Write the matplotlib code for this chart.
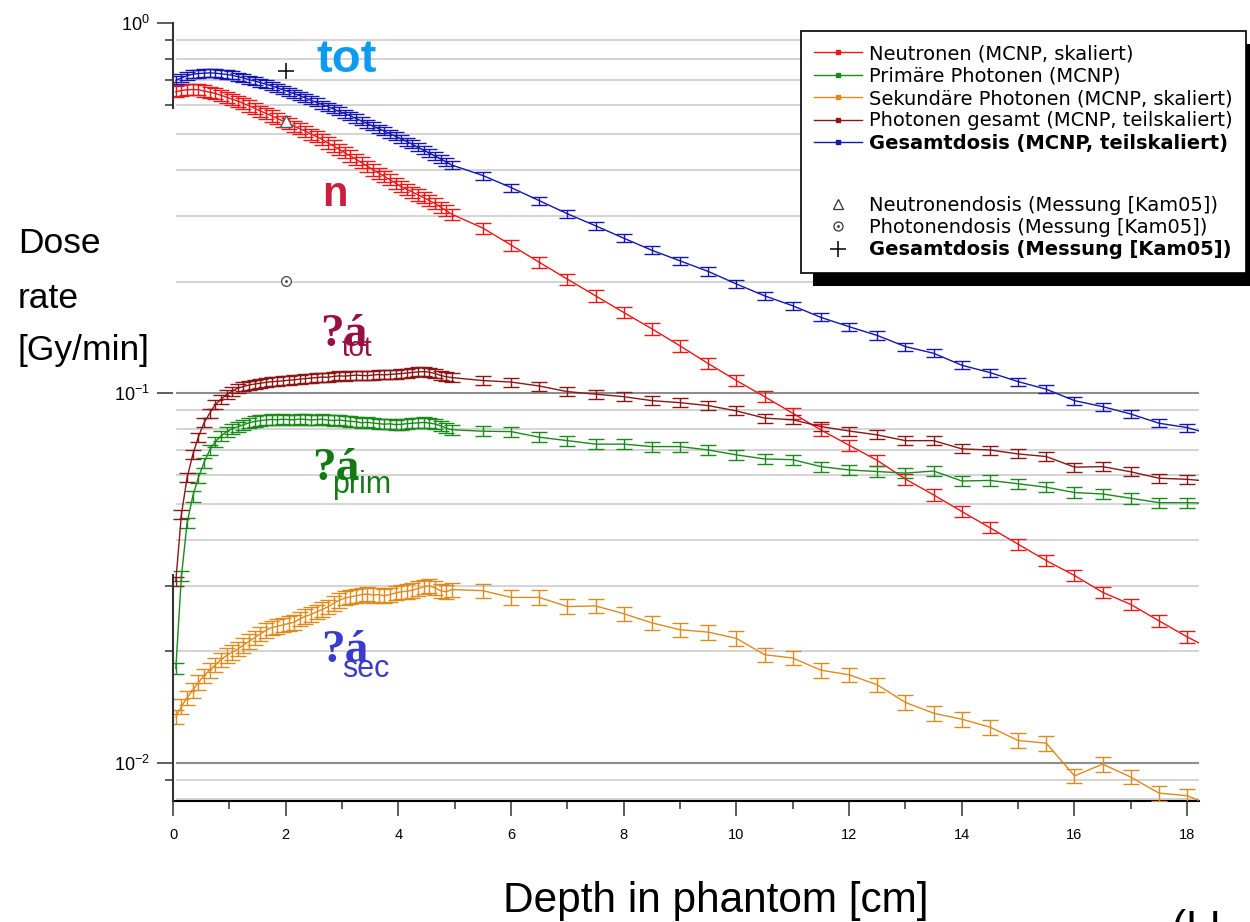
import matplotlib
matplotlib.use("Agg")
import matplotlib.pyplot as plt
from matplotlib import font_manager
from matplotlib.lines import Line2D
from matplotlib.patches import Rectangle
from matplotlib.ticker import FixedLocator, NullFormatter, LogFormatterSciNotation
from matplotlib.legend_handler import HandlerTuple

# depth in phantom [cm]: fine bins up to 5 cm, then 0.5 cm steps (last one lies past the axis end)
depth = [0.05, 0.15, 0.25, 0.35, 0.45, 0.55, 0.65, 0.75, 0.85, 0.95,
         1.05, 1.15, 1.25, 1.35, 1.45, 1.55, 1.65, 1.75, 1.85, 1.95,
         2.05, 2.15, 2.25, 2.35, 2.45, 2.55, 2.65, 2.75, 2.85, 2.95,
         3.05, 3.15, 3.25, 3.35, 3.45, 3.55, 3.65, 3.75, 3.85, 3.95,
         4.05, 4.15, 4.25, 4.35, 4.45, 4.55, 4.65, 4.75, 4.85, 4.95,
         5.5, 6.0, 6.5, 7.0, 7.5, 8.0, 8.5, 9.0, 9.5, 10.0,
         10.5, 11.0, 11.5, 12.0, 12.5, 13.0, 13.5, 14.0, 14.5, 15.0,
         15.5, 16.0, 16.5, 17.0, 17.5, 18.0, 18.5]

neutron = [0.652, 0.657, 0.660, 0.661, 0.660, 0.655, 0.650, 0.645, 0.638, 0.630,
           0.622, 0.615, 0.606, 0.597, 0.588, 0.578, 0.570, 0.561, 0.552, 0.543,
           0.535, 0.526, 0.518, 0.510, 0.501, 0.493, 0.484, 0.474, 0.465, 0.455,
           0.446, 0.437, 0.428, 0.419, 0.410, 0.401, 0.393, 0.385, 0.377, 0.369,
           0.361, 0.355, 0.349, 0.343, 0.337, 0.331, 0.325, 0.318, 0.311, 0.304,
           0.279, 0.251, 0.2255, 0.203, 0.183, 0.165, 0.149, 0.134, 0.120, 0.108,
           0.0977, 0.0881, 0.0794, 0.0722, 0.0657, 0.0585, 0.0530, 0.0478, 0.0432, 0.0390,
           0.0352, 0.0321, 0.0289, 0.0268, 0.0242, 0.0219, 0.0200]

prim_photon = [0.0180, 0.0320, 0.0445, 0.0525, 0.0590, 0.0648, 0.0700, 0.0738, 0.0765, 0.0785,
               0.0800, 0.0810, 0.0820, 0.0830, 0.0837, 0.0842, 0.0845, 0.0848, 0.0846, 0.0849,
               0.0847, 0.0846, 0.0850, 0.0848, 0.0845, 0.0847, 0.0849, 0.0844, 0.0842, 0.0845,
               0.0841, 0.0838, 0.0836, 0.0830, 0.0833, 0.0829, 0.0826, 0.0823, 0.0825, 0.0821,
               0.0822, 0.0826, 0.0828, 0.0830, 0.0832, 0.0829, 0.0824, 0.0815, 0.0803, 0.0795,
               0.0788, 0.0786, 0.0759, 0.0743, 0.0727, 0.0727, 0.0716, 0.0716, 0.0701, 0.0680,
               0.0663, 0.0660, 0.0632, 0.0619, 0.0613, 0.0607, 0.0615, 0.0578, 0.0580, 0.0568,
               0.0556, 0.0538, 0.0533, 0.0519, 0.0505, 0.0505, 0.0503]

sec_photon = [0.0133, 0.0142, 0.0150, 0.0157, 0.0165, 0.0172, 0.0178, 0.0184, 0.0190, 0.0195,
              0.0199, 0.0203, 0.0208, 0.0213, 0.0218, 0.0223, 0.0228, 0.0232, 0.0234, 0.0236,
              0.0238, 0.0240, 0.0245, 0.0249, 0.0252, 0.0256, 0.0260, 0.0264, 0.0270, 0.0275,
              0.0279, 0.0281, 0.0283, 0.0285, 0.0286, 0.0284, 0.0285, 0.0283, 0.0285, 0.0288,
              0.0290, 0.0291, 0.0293, 0.0296, 0.0299, 0.0301, 0.0297, 0.0292, 0.0290, 0.0294,
              0.0292, 0.0280, 0.0280, 0.02645, 0.02656, 0.0253, 0.0239, 0.0229, 0.02256, 0.0217,
              0.0196, 0.0192, 0.0178, 0.0173, 0.01625, 0.01456, 0.01362, 0.01312, 0.01249, 0.01149,
              0.0113, 0.00922, 0.00992, 0.00915, 0.00828, 0.00815, 0.0076]

photon_total = [0.0310, 0.0470, 0.0590, 0.0680, 0.0760, 0.0830, 0.0880, 0.0930, 0.0960, 0.0990,
                0.1010, 0.1030, 0.1040, 0.1050, 0.1057, 0.1062, 0.1068, 0.1072, 0.1075, 0.1078,
                0.1082, 0.1085, 0.1090, 0.1093, 0.1097, 0.1100, 0.1104, 0.1102, 0.1108, 0.1112,
                0.1110, 0.1114, 0.1117, 0.1115, 0.1113, 0.1118, 0.1121, 0.1119, 0.1122, 0.1125,
                0.1128, 0.1132, 0.1136, 0.1140, 0.1142, 0.1138, 0.1128, 0.1115, 0.1106, 0.1100,
                0.1080, 0.1070, 0.1044, 0.1008, 0.0992, 0.0977, 0.0953, 0.0941, 0.0924, 0.0894,
                0.0855, 0.0846, 0.0811, 0.0789, 0.0770, 0.0743, 0.0743, 0.0706, 0.0701, 0.0684,
                0.0673, 0.0630, 0.0632, 0.0612, 0.0588, 0.0584, 0.0575]

total = [0.700, 0.710, 0.720, 0.727, 0.730, 0.732, 0.733, 0.732, 0.729, 0.726,
         0.722, 0.716, 0.710, 0.703, 0.697, 0.690, 0.683, 0.676, 0.668, 0.660,
         0.652, 0.644, 0.636, 0.627, 0.618, 0.610, 0.602, 0.594, 0.585, 0.577,
         0.569, 0.561, 0.552, 0.543, 0.535, 0.526, 0.518, 0.510, 0.502, 0.494,
         0.486, 0.478, 0.470, 0.461, 0.453, 0.445, 0.437, 0.429, 0.421, 0.413,
         0.387, 0.359, 0.331, 0.305, 0.283, 0.262, 0.243, 0.2275, 0.213, 0.197,
         0.183, 0.172, 0.160, 0.151, 0.143, 0.1334, 0.128, 0.1188, 0.1135, 0.1073,
         0.1023, 0.0953, 0.0918, 0.0877, 0.0828, 0.0806, 0.0766]

# relative statistical uncertainty of each MCNP series
rel_err = {"neutron": 0.035, "prim": 0.032, "sec": 0.045, "phot": 0.028, "total": 0.025}

# measurements [Kam05]
meas_depth = [2.0]
meas_neutron = [0.543]
meas_photon = [0.201]
meas_total = [0.741]

labels = ["Neutronen (MCNP, skaliert)",
          "Primäre Photonen (MCNP)",
          "Sekundäre Photonen (MCNP, skaliert)",
          "Photonen gesamt (MCNP, teilskaliert)",
          "Gesamtdosis (MCNP, teilskaliert)",
          "Neutronendosis (Messung [Kam05])",
          "Photonendosis (Messung [Kam05])",
          "Gesamtdosis (Messung [Kam05])"]

C_N = "#ee1515"
C_P = "#1a8a1a"
C_S = "#e08a1c"
C_G = "#8b1616"
C_T = "#1515b0"

names = {f.name for f in font_manager.fontManager.ttflist}
if "Liberation Sans Narrow" in names:
    NARROW = "Liberation Sans Narrow"
    sz = {"ylab": 31, "xlab": 36, "tick": 12, "tot": 41, "n": 36}
else:
    NARROW = "Liberation Sans"
    sz = {"ylab": 25.5, "xlab": 30.5, "tick": 10.5, "tot": 34, "n": 30}

plt.rcParams["mathtext.default"] = "regular"
plt.rcParams["axes.unicode_minus"] = False

W, H = 1250, 922
fig = plt.figure(figsize=(W / 100, H / 100), dpi=100)
ax = fig.add_axes([173 / W, 1 - 800.7 / H, 1026 / W, 777.7 / H])
ax.set_yscale("log")
ax.set_xlim(0, 18.21)
ax.set_ylim(0.0079, 1.0)

# horizontal grid (no line at the top decade)
for dec in (0.001, 0.01, 0.1):
    for k in range(1, 10):
        v = k * dec
        if v < 0.0079 or v > 0.95:
            continue
        if k == 1:
            ax.axhline(v, xmin=0.004, color="#8c8c8c", lw=1.5, zorder=0)
        else:
            ax.axhline(v, xmin=0.004, color="#d4d4d4", lw=1.4, zorder=0)

series = [(neutron, C_N, rel_err["neutron"]),
          (prim_photon, C_P, rel_err["prim"]),
          (sec_photon, C_S, rel_err["sec"]),
          (photon_total, C_G, rel_err["phot"]),
          (total, C_T, rel_err["total"])]
for vals, col, rel in series:
    ax.errorbar(depth, vals, yerr=[v * rel for v in vals], color=col, lw=1.0,
                elinewidth=1.0, capsize=5.6, capthick=1.0, zorder=3)

ax.plot(meas_depth, meas_neutron, ls="none", marker="^", ms=8, mfc="white",
        mec="#555555", mew=1.0, zorder=6)
ax.plot(meas_depth, meas_photon, ls="none", marker="o", ms=7, mfc="white",
        mec="#444444", mew=0.9, zorder=6)
ax.plot(meas_depth, meas_photon, ls="none", marker=".", ms=2, color="#444444", zorder=7)
ax.plot(meas_depth, meas_total, ls="none", marker="+", ms=12, mew=1.1,
        color="black", zorder=6)

# axes frame: only bottom spine, left spine drawn in two pieces
for s in ("top", "right", "left"):
    ax.spines[s].set_visible(False)
ax.spines["bottom"].set_color("black")
ax.spines["bottom"].set_linewidth(1.5)
ax.plot([0, 0], [1.0, 0.59], color="#333333", lw=1.5, clip_on=False, zorder=4)
ax.plot([0, 0], [0.0322, 0.0079], color="#333333", lw=1.5, clip_on=False, zorder=4)

ax.yaxis.set_major_locator(FixedLocator([0.01, 0.1, 1.0]))
ax.yaxis.set_major_formatter(LogFormatterSciNotation())
ax.yaxis.set_minor_locator(FixedLocator([0.6, 0.7, 0.8, 0.9, 0.03, 0.02, 0.009]))
ax.yaxis.set_minor_formatter(NullFormatter())
ax.tick_params(axis="y", which="major", direction="out", length=11.5, width=1.1,
               color="#333333", pad=5, labelsize=13)
ax.tick_params(axis="y", which="minor", direction="out", length=5.8, width=1.1,
               color="#333333")
ax.set_xticks(range(0, 19, 2))
ax.set_xticks(range(1, 18, 2), minor=True)
ax.tick_params(axis="x", which="major", direction="out", length=10.8, width=1.1,
               color="#333333", pad=8.5, labelsize=sz["tick"])
ax.tick_params(axis="x", which="minor", direction="out", length=5.8, width=1.1,
               color="#333333")
for t in ax.get_xticklabels():
    t.set_fontfamily(NARROW)
for t in ax.get_yticklabels():
    t.set_fontfamily("Liberation Sans")

# legend
handles = [Line2D([], [], color=c, lw=1.0, marker="s", ms=3) for c in (C_N, C_P, C_S, C_G, C_T)]
blank = Line2D([], [], ls="none")
h_tri = Line2D([], [], ls="none", marker="^", ms=7, mfc="white", mec="#333333", mew=0.9)
h_circ = Line2D([], [], ls="none", marker="o", ms=6.5, mfc="white", mec="#333333", mew=0.9)
h_dot = Line2D([], [], ls="none", marker=".", ms=2, color="#333333")
h_plus = Line2D([], [], ls="none", marker="+", ms=12, mew=1.1, color="black")
handles += [blank, h_tri, (h_circ, h_dot), h_plus]
leg_labels = labels[:5] + [" "] + labels[5:]
leg = ax.legend(handles, leg_labels, loc="upper left",
                bbox_to_anchor=(801 / W, 1 - 31 / H), bbox_transform=fig.transFigure,
                borderaxespad=0, frameon=True, fancybox=False, framealpha=1,
                edgecolor="black", prop={"family": "DejaVu Sans", "size": 14},
                handlelength=2.45, handletextpad=0.36, labelspacing=0.175, borderpad=0.68,
                handler_map={tuple: HandlerTuple(ndivide=1)})
leg.get_frame().set_linewidth(1.2)
leg.set_zorder(10)
leg.get_texts()[4].set_fontweight("bold")
leg.get_texts()[8].set_fontweight("bold")
leg.get_texts()[5].set_fontsize(27)

fig.canvas.draw()
bb = leg.get_window_extent().transformed(fig.transFigure.inverted())
ax.add_artist(Rectangle((bb.x0 + 12 / W, bb.y0 - 13 / H), bb.width, bb.height,
                        transform=fig.transFigure, facecolor="black", edgecolor="none",
                        zorder=9, clip_on=False))

# curve annotations
def ftxt(x, y, s, **kw):
    fig.text(x / W, 1 - y / H, s, va="baseline", **kw)

ftxt(347, 72, "tot", ha="center", color="#0d9bf2", fontsize=sz["tot"],
     fontweight="bold", family=NARROW)
ftxt(335, 206, "n", ha="center", color="#cc1f40", fontsize=sz["n"],
     fontweight="bold", family=NARROW)
ftxt(320, 346, "?á", ha="left", color="#991040", fontsize=34, fontweight="bold",
     family="Liberation Serif")
ftxt(342, 356, "tot", ha="left", color="#991040", fontsize=20, family="Liberation Sans")
ftxt(312, 480, "?á", ha="left", color="#137a13", fontsize=34, fontweight="bold",
     family="Liberation Serif")
ftxt(332, 493, "prim", ha="left", color="#137a13", fontsize=22, family="Liberation Sans")
ftxt(321, 662, "?á", ha="left", color="#3a3acf", fontsize=34, fontweight="bold",
     family="Liberation Serif")
ftxt(342, 677, "sec", ha="left", color="#3a3acf", fontsize=22, family="Liberation Sans")

# axis titles
ftxt(18, 253, "Dose", ha="left", fontsize=sz["ylab"], family=NARROW)
ftxt(18, 308, "rate", ha="left", fontsize=sz["ylab"], family=NARROW)
ftxt(18, 360, "[Gy/min]", ha="left", fontsize=sz["ylab"], family=NARROW)
ftxt(716, 912, "Depth in phantom [cm]", ha="center", fontsize=sz["xlab"], family=NARROW)
ftxt(1172, 940, "(LL, D", ha="left", fontsize=sz["xlab"], family=NARROW)

fig.savefig("out.png", dpi=100)
